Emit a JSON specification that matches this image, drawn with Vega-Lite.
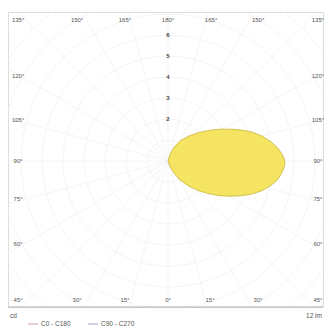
{
  "$schema": "https://vega.github.io/schema/vega-lite/v6.json",
  "autosize": {"type": "none"},
  "width": 315,
  "height": 295,
  "padding": {"left": 8, "top": 12, "right": 4, "bottom": 20},
  "background": "white",
  "config": {"view": {"stroke": "#dddddd", "strokeWidth": 1}, "font": "Liberation Sans"},
  "datasets": {
    "rays": [
      {"x1": 0, "y1": -12, "x2": 0, "y2": 12},
      {"x1": 3.106, "y1": -11.591, "x2": -3.106, "y2": 11.591},
      {"x1": 6, "y1": -10.392, "x2": -6, "y2": 10.392},
      {"x1": 8.485, "y1": -8.485, "x2": -8.485, "y2": 8.485},
      {"x1": 10.392, "y1": -6, "x2": -10.392, "y2": 6},
      {"x1": 11.591, "y1": -3.106, "x2": -11.591, "y2": 3.106},
      {"x1": 12, "y1": 0, "x2": -12, "y2": 0},
      {"x1": 11.591, "y1": 3.106, "x2": -11.591, "y2": -3.106},
      {"x1": 10.392, "y1": 6, "x2": -10.392, "y2": -6},
      {"x1": 8.485, "y1": 8.485, "x2": -8.485, "y2": -8.485},
      {"x1": 6, "y1": 10.392, "x2": -6, "y2": -10.392},
      {"x1": 3.106, "y1": 11.591, "x2": -3.106, "y2": -11.591}
    ],
    "rings": [
      {"r": 1}, {"r": 2}, {"r": 3}, {"r": 4}, {"r": 5}, {"r": 6}, {"r": 7}, {"r": 8}, {"r": 9}, {"r": 10}
    ],
    "curve": [
      {"x": 0, "top": 0, "bot": 0},
      {"x": 0.1, "top": 0.33, "bot": -0.28},
      {"x": 0.3, "top": 0.68, "bot": -0.6},
      {"x": 0.6, "top": 0.98, "bot": -0.92},
      {"x": 1.0, "top": 1.2, "bot": -1.2},
      {"x": 1.5, "top": 1.37, "bot": -1.43},
      {"x": 2.0, "top": 1.47, "bot": -1.57},
      {"x": 2.5, "top": 1.52, "bot": -1.65},
      {"x": 3.0, "top": 1.52, "bot": -1.67},
      {"x": 3.5, "top": 1.48, "bot": -1.65},
      {"x": 4.0, "top": 1.38, "bot": -1.57},
      {"x": 4.5, "top": 1.18, "bot": -1.4},
      {"x": 4.9, "top": 0.92, "bot": -1.16},
      {"x": 5.2, "top": 0.65, "bot": -0.9},
      {"x": 5.4, "top": 0.38, "bot": -0.6},
      {"x": 5.52, "top": 0.14, "bot": -0.32},
      {"x": 5.57, "top": -0.08, "bot": -0.08}
    ],
    "angleLabels": [
      {"x": -7.14, "y": 6.71, "t": "135°"},
      {"x": -4.33, "y": 6.71, "t": "150°"},
      {"x": -2.05, "y": 6.71, "t": "165°"},
      {"x": 0, "y": 6.71, "t": "180°"},
      {"x": 2.05, "y": 6.71, "t": "165°"},
      {"x": 4.29, "y": 6.71, "t": "150°"},
      {"x": 7.14, "y": 6.71, "t": "135°"},
      {"x": -7.14, "y": 4.05, "t": "120°"},
      {"x": -7.14, "y": 1.95, "t": "105°"},
      {"x": -7.14, "y": 0, "t": "90°"},
      {"x": -7.14, "y": -1.81, "t": "75°"},
      {"x": -7.14, "y": -3.95, "t": "60°"},
      {"x": 7.14, "y": 4.05, "t": "120°"},
      {"x": 7.14, "y": 1.95, "t": "105°"},
      {"x": 7.14, "y": 0, "t": "90°"},
      {"x": 7.14, "y": -1.81, "t": "75°"},
      {"x": 7.14, "y": -3.95, "t": "60°"},
      {"x": -7.14, "y": -6.62, "t": "45°"},
      {"x": -4.33, "y": -6.62, "t": "30°"},
      {"x": -2.05, "y": -6.62, "t": "15°"},
      {"x": 0, "y": -6.62, "t": "0°"},
      {"x": 2.0, "y": -6.62, "t": "15°"},
      {"x": 4.29, "y": -6.62, "t": "30°"},
      {"x": 7.14, "y": -6.62, "t": "45°"}
    ],
    "scaleLabels": [
      {"v": 2, "t": "2"}, {"v": 3, "t": "3"}, {"v": 4, "t": "4"}, {"v": 5, "t": "5"}, {"v": 6, "t": "6"}
    ],
    "legendLines": [
      {"s": "C0 - C180", "x1": -6.67, "x2": -6.19, "y": -7.76},
      {"s": "C90 - C270", "x1": -3.81, "x2": -3.33, "y": -7.76}
    ],
    "legendText": [
      {"t": "C0 - C180", "x": -6.05, "y": -7.76},
      {"t": "C90 - C270", "x": -3.19, "y": -7.76}
    ]
  },
  "layer": [
    {
      "data": {"name": "rays"},
      "mark": {"type": "rule", "clip": true, "color": "#f1f1f1", "strokeWidth": 0.8},
      "encoding": {
        "x": {"field": "x1", "type": "quantitative", "scale": {"domain": [-7.62, 7.38], "nice": false, "zero": false}, "axis": null},
        "y": {"field": "y1", "type": "quantitative", "scale": {"domain": [-6.95, 7.1], "nice": false, "zero": false}, "axis": null},
        "x2": {"field": "x2"},
        "y2": {"field": "y2"}
      }
    },
    {
      "data": {"name": "rings"},
      "mark": {"type": "point", "shape": "circle", "filled": false, "clip": true, "color": "#f1f1f1", "strokeWidth": 0.8, "opacity": 1},
      "encoding": {
        "x": {"datum": 0, "type": "quantitative"},
        "y": {"datum": 0, "type": "quantitative"},
        "size": {"field": "r", "type": "quantitative", "scale": {"type": "pow", "exponent": 2, "domain": [0, 10], "range": [0, 176400], "zero": true}, "legend": null}
      }
    },
    {
      "data": {"name": "curve"},
      "mark": {"type": "area", "color": "#f4e462", "stroke": "#c9b43a", "strokeWidth": 0.8, "opacity": 1},
      "encoding": {
        "x": {"field": "x", "type": "quantitative"},
        "y": {"field": "top", "type": "quantitative"},
        "y2": {"field": "bot"}
      }
    },
    {
      "data": {"values": [{"y": -6.95}]},
      "mark": {"type": "rule", "color": "#b0b0b0", "strokeWidth": 1},
      "encoding": {
        "y": {"field": "y", "type": "quantitative"}
      }
    },
    {
      "data": {"name": "angleLabels"},
      "mark": {"type": "text", "fontSize": 6, "color": "#555555", "align": "center", "baseline": "middle"},
      "encoding": {
        "x": {"field": "x", "type": "quantitative"},
        "y": {"field": "y", "type": "quantitative"},
        "text": {"field": "t"}
      }
    },
    {
      "data": {"name": "scaleLabels"},
      "mark": {"type": "text", "fontSize": 6, "color": "#444444", "fontWeight": "bold", "align": "center", "baseline": "middle"},
      "encoding": {
        "x": {"datum": 0, "type": "quantitative"},
        "y": {"field": "v", "type": "quantitative"},
        "text": {"field": "t"}
      }
    },
    {
      "data": {"values": [{"x": -7.52, "y": -7.38, "t": "cd"}]},
      "mark": {"type": "text", "fontSize": 6.5, "color": "#555555", "align": "left", "baseline": "middle"},
      "encoding": {
        "x": {"field": "x", "type": "quantitative"},
        "y": {"field": "y", "type": "quantitative"},
        "text": {"field": "t"}
      }
    },
    {
      "data": {"values": [{"x": 7.33, "y": -7.38, "t": "12 lm"}]},
      "mark": {"type": "text", "fontSize": 6.5, "color": "#555555", "align": "right", "baseline": "middle"},
      "encoding": {
        "x": {"field": "x", "type": "quantitative"},
        "y": {"field": "y", "type": "quantitative"},
        "text": {"field": "t"}
      }
    },
    {
      "data": {"name": "legendLines"},
      "mark": {"type": "rule", "strokeWidth": 1},
      "encoding": {
        "x": {"field": "x1", "type": "quantitative"},
        "x2": {"field": "x2"},
        "y": {"field": "y", "type": "quantitative"},
        "color": {"field": "s", "type": "nominal", "scale": {"domain": ["C0 - C180", "C90 - C270"], "range": ["#c9a0a0", "#a0a0c9"]}, "legend": null}
      }
    },
    {
      "data": {"name": "legendText"},
      "mark": {"type": "text", "fontSize": 6.5, "color": "#555555", "align": "left", "baseline": "middle"},
      "encoding": {
        "x": {"field": "x", "type": "quantitative"},
        "y": {"field": "y", "type": "quantitative"},
        "text": {"field": "t"}
      }
    }
  ]
}
